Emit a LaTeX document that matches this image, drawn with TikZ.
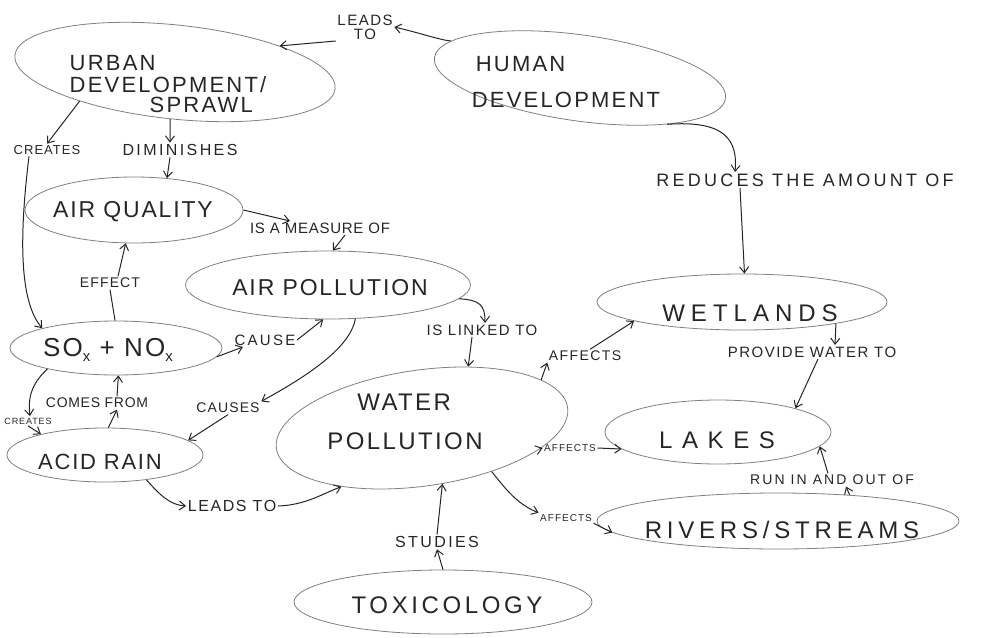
\documentclass[tikz,border=0pt]{standalone}
\usepackage{fontspec}
\setmainfont{Liberation Sans}
\usetikzlibrary{shapes.geometric,arrows.meta}
% size and letter spacing for the lettering
\newcommand\hf[2]{\fontsize{#1}{\dimexpr #1pt*6/5\relax}\selectfont\addfontfeature{LetterSpace=#2}}
\newcommand\subx{{\fontsize{15}{15}\selectfont\raisebox{-5pt}{x}}}
\begin{document}
\begin{tikzpicture}[x=1pt,y=-1pt,
  concept/.style={ellipse, draw=black!50, line width=0.8pt, inner sep=0pt},
  ctext/.style={inner sep=0pt, text=black!85},
  lab/.style={inner sep=1.5pt, text=black!85},
  link/.style={draw=black!85, line width=1pt},
  arr/.style={link, -{Straight Barb[length=6pt,width=9pt]}}]
\fill[white] (0,0) rectangle (984,637);
\useasboundingbox (0,0) rectangle (984,637);

% concepts
\node[concept, minimum width=322, minimum height=94, rotate=-6] (urban) at (175,72) {};
\node[ctext, align=left, font={\hf{22}{10}}] (urbant) at (168,84) {URBAN\\[-4pt]DEVELOPMENT/\\[-6pt]\hspace*{80pt}SPRAWL};
\node[concept, minimum width=294, minimum height=86, rotate=-8] (human) at (580,78) {};
\node[ctext, align=left, font={\hf{22}{10}}] (humant) at (566,82) {\hspace*{4pt}HUMAN\\[10pt]DEVELOPMENT};
\node[concept, minimum width=218, minimum height=66] (airq) at (134,210) {};
\node[ctext, font={\hf{23}{8}}] (airqt) at (133,212) {AIR QUALITY};
\node[concept, minimum width=285, minimum height=68] (airpol) at (328,285) {};
\node[ctext, font={\hf{23}{8}}] (airpolt) at (330,288) {AIR POLLUTION};
\node[concept, minimum width=212, minimum height=54] (sox) at (116,348) {};
\node[ctext, font={\hf{26}{8}}] (soxt) at (108,350) {SO\subx{} + NO\subx};
\node[concept, minimum width=196, minimum height=54] (acid) at (105,455) {};
\node[ctext, font={\hf{22}{8}}] (acidt) at (100,462) {ACID RAIN};
\node[concept, minimum width=294, minimum height=116, rotate=8] (water) at (422,428) {};
\node[ctext, align=left, font={\hf{24}{10}}] (watert) at (405,422) {\hspace*{30pt}WATER\\[10pt]POLLUTION};
\node[concept, minimum width=290, minimum height=56] (wet) at (742,302) {};
\node[ctext, font={\hf{24}{25}}] (wett) at (750,313) {WETLANDS};
\node[concept, minimum width=226, minimum height=64] (lakes) at (718,432) {};
\node[ctext, font={\hf{24}{40}}] (lakest) at (717,440) {LAKES};
\node[concept, minimum width=362, minimum height=56] (rivers) at (778,521) {};
\node[ctext, font={\hf{24}{20}}] (riverst) at (782,530) {RIVERS/STREAMS};
\node[concept, minimum width=298, minimum height=64] (tox) at (443,602) {};
\node[ctext, font={\hf{24}{15}}] (toxt) at (447,605) {TOXICOLOGY};

% link labels
\node[lab, align=center, font={\hf{15}{10}}] (leads) at (365,27) {LEADS\\[-4pt]TO};
\node[lab, font={\hf{16}{15}}] (dimin) at (180,150) {DIMINISHES};
\node[lab, font={\hf{13}{8}}] (creates) at (47,150) {CREATES};
\node[lab, font={\hf{14}{8}}] (effect) at (110,283) {EFFECT};
\node[lab, font={\hf{15}{5}}] (measure) at (320,228) {IS A MEASURE OF};
\node[lab, font={\hf{15}{15}}] (cause) at (265,340) {CAUSE};
\node[lab, font={\hf{15}{10}}] (linked) at (482,330) {IS LINKED TO};
\node[lab, font={\hf{14}{8}}] (causes) at (228,408) {CAUSES};
\node[lab, font={\hf{14}{5}}] (comes) at (97,403) {COMES FROM};
\node[lab, font={\hf{9}{10}}] (creates2) at (28,421) {CREATES};
\node[lab, font={\hf{16}{10}}] (leads2) at (232,506) {LEADS TO};
\node[lab, font={\hf{14}{10}}] (affects1) at (585,356) {AFFECTS};
\node[lab, font={\hf{10}{10}}] (affects2) at (570,448) {AFFECTS};
\node[lab, font={\hf{10}{10}}] (affects3) at (566,518) {AFFECTS};
\node[lab, font={\hf{16}{15}}] (studies) at (437,542) {STUDIES};
\node[lab, font={\hf{18}{18}}] (reduces) at (805,180) {REDUCES THE AMOUNT OF};
\node[lab, font={\hf{15}{10}}] (provide) at (812,352) {PROVIDE WATER TO};
\node[lab, font={\hf{14}{15}}] (run) at (832,480) {RUN IN AND OUT OF};

% connectors
\draw[arr] (human.172) .. controls (440,40) and (420,33) .. (leads.east);
\draw[arr] (leads.south west) -- (urban.20);
\draw[arr] (urban.south) -- ([xshift=-10pt]dimin.north);
\draw[arr] ([xshift=-10pt]dimin.south) -- (airq.44);
\draw[arr] (urban.203) -- (creates.north);
\draw[arr] ([xshift=-18pt]creates.south) .. controls (20,230) and (18,300) .. (sox.165);
\draw[link] (sox.92) -- (effect.south);
\draw[arr] ([xshift=8pt]effect.north) -- (airq.256);
\draw[arr] (airq.east) -- ([xshift=-30pt]measure.north);
\draw[arr] ([xshift=25pt]measure.south) -- (airpol.82);
\draw[arr] (sox.-5) -- ([xshift=10pt]cause.south west);
\draw[arr] (cause.east) -- (airpol.262);
\draw[arr] (airpol.309) .. controls (350,350) and (300,380) .. (causes.north east);
\draw[arr] (causes.south) -- (acid.10);
\draw[arr] (acid.83) -- ([xshift=20pt]comes.south);
\draw[arr] ([xshift=20pt]comes.north) -- (sox.-85);
\draw[arr] (sox.197) .. controls (30,385) and (28,400) .. ([xshift=2pt]creates2.north);
\draw[arr] (creates2.south) -- (acid.162);
\draw[arr] (acid.329) .. controls (160,495) and (170,505) .. (leads2.west);
\draw[arr] (leads2.east) .. controls (305,505) and (320,495) .. (water.208);
\draw[arr] (airpol.-6) .. controls (480,300) and (485,305) .. ([xshift=3pt]linked.north);
\draw[arr] ([xshift=-10pt]linked.south) -- (water.45);
\draw[arr] (water.14) -- (affects1.south west);
\draw[arr] ([xshift=5pt]affects1.north) -- (wet.190);
\draw[arr] (water.-18) -- (affects2.west);
\draw[arr] (affects2.east) -- (lakes.190);
\draw[arr] (water.-40) .. controls (510,495) and (520,505) .. (affects3.north west);
\draw[arr] (affects3.south east) -- (rivers.184);
\draw[arr] (tox.north) -- (studies.south);
\draw[arr] (studies.north) -- (water.-78);
\draw[arr] (human.-20) .. controls (725,120) and (738,140) .. ([xshift=-70pt]reduces.north);
\draw[arr] ([xshift=-65pt]reduces.south) -- (wet.85);
\draw[arr] (wet.-13) -- ([xshift=23pt]provide.north);
\draw[arr] ([xshift=6pt]provide.south) -- (lakes.17);
\draw[arr] (rivers.20) -- ([xshift=14pt]run.south);
\draw[arr] ([xshift=-4pt]run.north) -- (lakes.-8);
\end{tikzpicture}
\end{document}
